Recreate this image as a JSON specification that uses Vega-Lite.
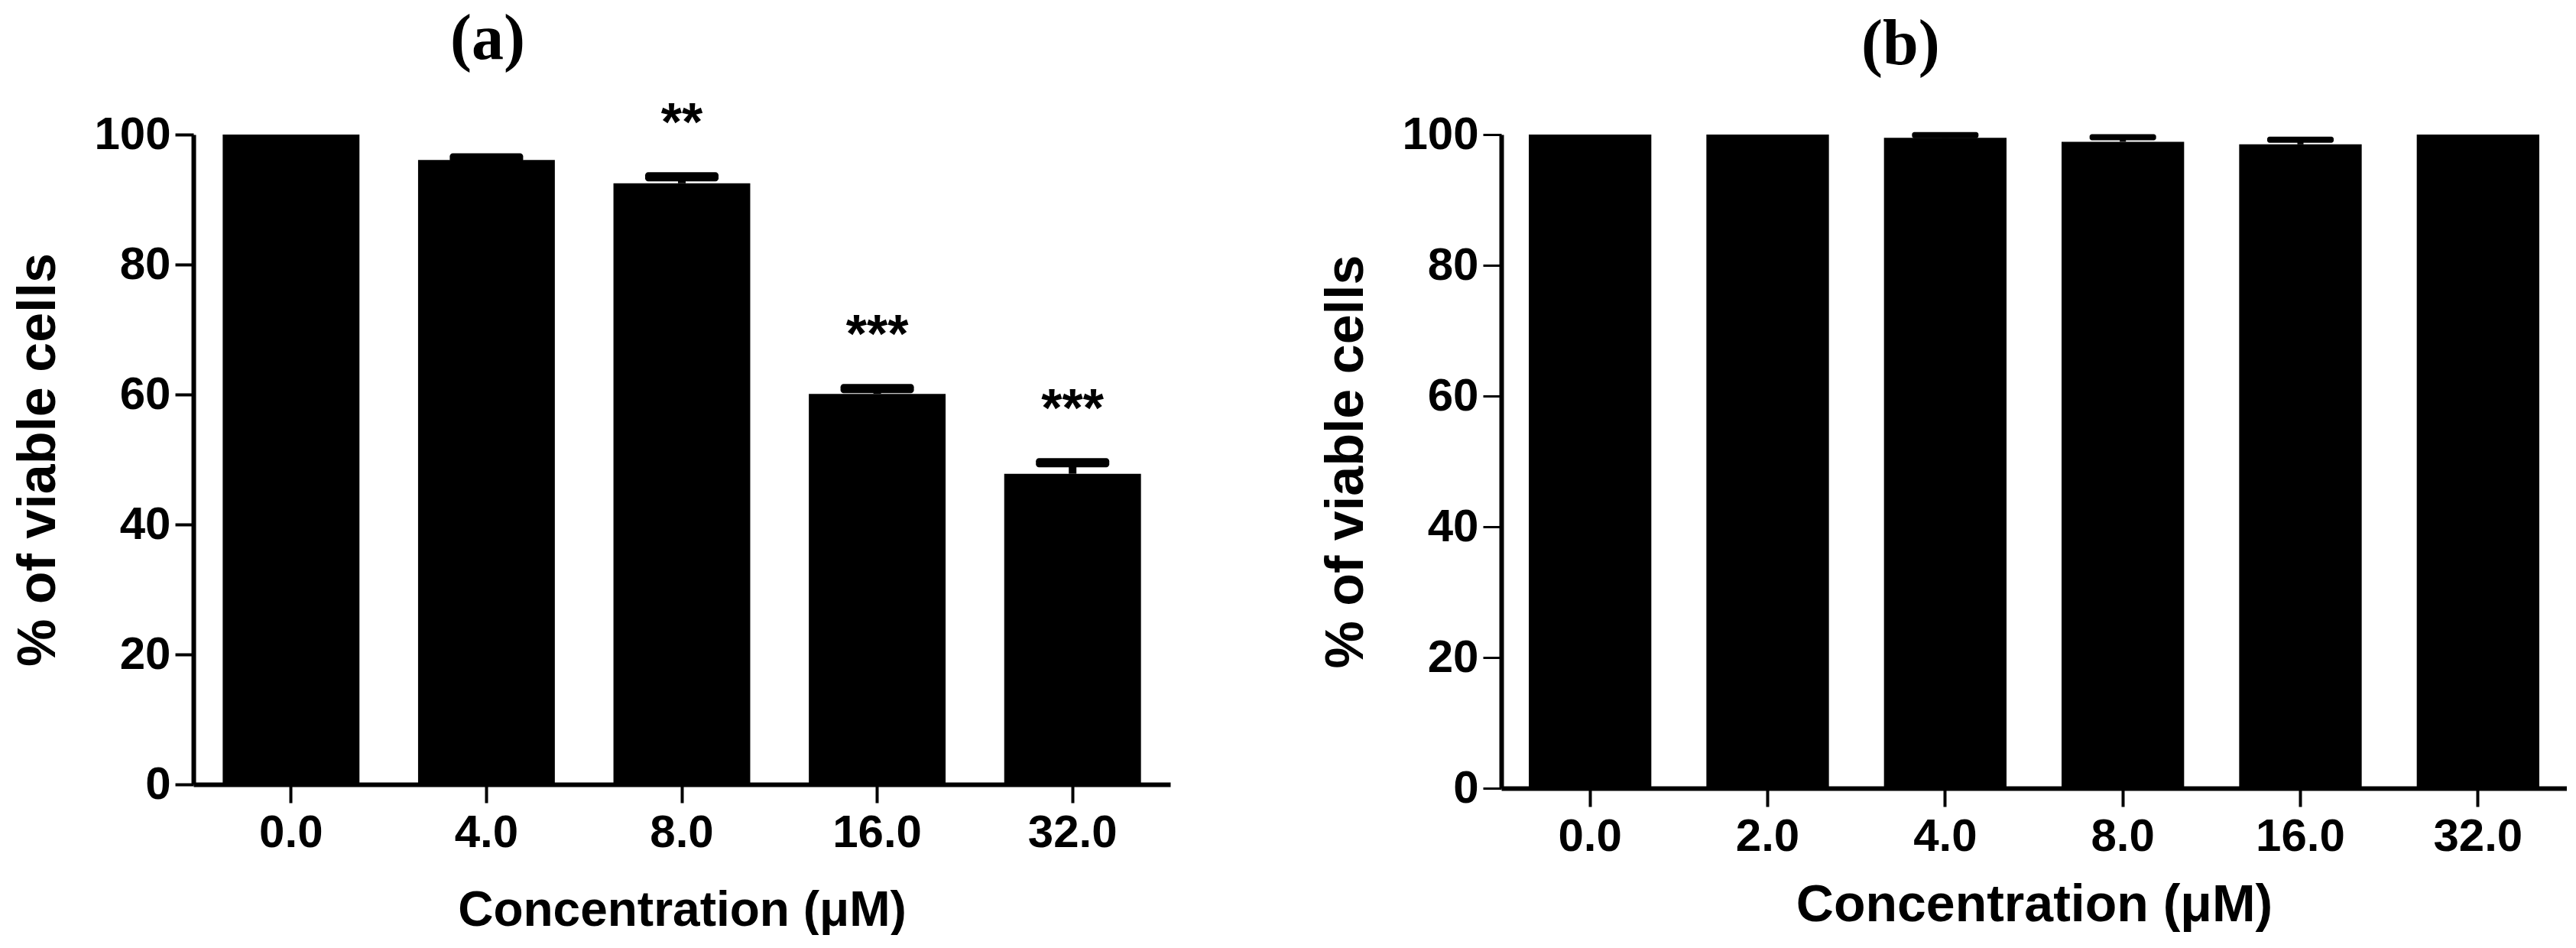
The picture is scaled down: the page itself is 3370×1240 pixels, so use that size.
{
  "$schema": "https://vega.github.io/schema/vega-lite/v6.json",
  "background": "white",
  "padding": {"left": 15, "top": 10, "right": 0, "bottom": 0},
  "bounds": "flush",
  "spacing": 433,
  "config": {
    "view": {"stroke": null},
    "axis": {
      "domainColor": "black", "domainWidth": 6,
      "tickColor": "black", "tickWidth": 4, "tickSize": 24,
      "labelColor": "black", "labelFont": "Liberation Sans",
      "labelFontWeight": "bold", "labelFontSize": 60,
      "titleColor": "black", "titleFont": "Liberation Sans", "titleFontWeight": "bold",
      "grid": false
    },
    "axisX": {"labelAngle": 0, "labelPadding": 10, "titleFontSize": 64, "titlePadding": 40},
    "axisY": {"labelPadding": 6, "titleFontSize": 70, "titlePadding": 36},
    "title": {"font": "Liberation Serif", "fontWeight": "bold", "fontSize": 84, "color": "black",
      "anchor": "start", "frame": "group", "baseline": "alphabetic"}
  },
  "datasets": {
    "a": [
      {"conc": "0.0", "mean": 100, "upper": 100, "star": ""},
      {"conc": "4.0", "mean": 96.1, "upper": 96.4, "star": ""},
      {"conc": "8.0", "mean": 92.5, "upper": 93.5, "star": "**"},
      {"conc": "16.0", "mean": 60.1, "upper": 60.9, "star": "***"},
      {"conc": "32.0", "mean": 47.8, "upper": 49.5, "star": "***"}
    ],
    "b": [
      {"conc": "0.0", "mean": 100, "upper": 100},
      {"conc": "2.0", "mean": 100, "upper": 100},
      {"conc": "4.0", "mean": 99.5, "upper": 99.9},
      {"conc": "8.0", "mean": 98.9, "upper": 99.6},
      {"conc": "16.0", "mean": 98.5, "upper": 99.2},
      {"conc": "32.0", "mean": 100, "upper": 100}
    ]
  },
  "hconcat": [
    {
      "title": {"text": "(a)", "dx": 336, "offset": 33},
      "width": 1278, "height": 850,
      "data": {"name": "a"},
      "encoding": {
        "x": {"field": "conc", "type": "nominal", "sort": ["0.0", "4.0", "8.0", "16.0", "32.0"],
          "scale": {"paddingInner": 0.3, "paddingOuter": 0.15},
          "axis": {"title": "Concentration (μM)"}},
        "y": {"field": "mean", "type": "quantitative"}
      },
      "layer": [
        {"mark": {"type": "bar", "color": "black"},
         "encoding": {"y": {"field": "mean", "type": "quantitative",
           "scale": {"domain": [0, 100], "nice": false},
           "axis": {"title": "% of viable cells", "values": [0, 20, 40, 60, 80, 100]}}}},
        {"transform": [{"filter": "datum.upper > datum.mean"}],
         "mark": {"type": "rule", "color": "black", "strokeWidth": 10},
         "encoding": {"y": {"field": "mean", "type": "quantitative"}, "y2": {"field": "upper"}}},
        {"transform": [{"filter": "datum.upper > datum.mean"}],
         "mark": {"type": "tick", "color": "black", "orient": "horizontal", "size": 96, "thickness": 12, "opacity": 1, "cornerRadius": 4},
         "encoding": {"y": {"field": "upper", "type": "quantitative"}}},
        {"transform": [{"filter": "datum.star != ''"}],
         "mark": {"type": "text", "color": "black", "font": "Liberation Sans", "fontWeight": "bold", "fontSize": 70, "baseline": "alphabetic", "dy": -47},
         "encoding": {"y": {"field": "upper", "type": "quantitative"}, "text": {"field": "star"}}}
      ]
    },
    {
      "title": {"text": "(b)", "dx": 471, "offset": 44},
      "width": 1394, "height": 855,
      "data": {"name": "b"},
      "encoding": {
        "x": {"field": "conc", "type": "nominal", "sort": ["0.0", "2.0", "4.0", "8.0", "16.0", "32.0"],
          "scale": {"paddingInner": 0.31, "paddingOuter": 0.155},
          "axis": {"title": "Concentration (μM)", "titleFontSize": 68, "titlePadding": 26}},
        "y": {"field": "mean", "type": "quantitative"}
      },
      "layer": [
        {"mark": {"type": "bar", "color": "black"},
         "encoding": {"y": {"field": "mean", "type": "quantitative",
           "scale": {"domain": [0, 100], "nice": false},
           "axis": {"title": "% of viable cells", "values": [0, 20, 40, 60, 80, 100], "tickWidth": 3}}}},
        {"transform": [{"filter": "datum.upper > datum.mean"}],
         "mark": {"type": "rule", "color": "black", "strokeWidth": 8},
         "encoding": {"y": {"field": "mean", "type": "quantitative"}, "y2": {"field": "upper"}}},
        {"transform": [{"filter": "datum.upper > datum.mean"}],
         "mark": {"type": "tick", "color": "black", "orient": "horizontal", "size": 87, "thickness": 8, "opacity": 1, "cornerRadius": 3},
         "encoding": {"y": {"field": "upper", "type": "quantitative"}}}
      ]
    }
  ]
}
